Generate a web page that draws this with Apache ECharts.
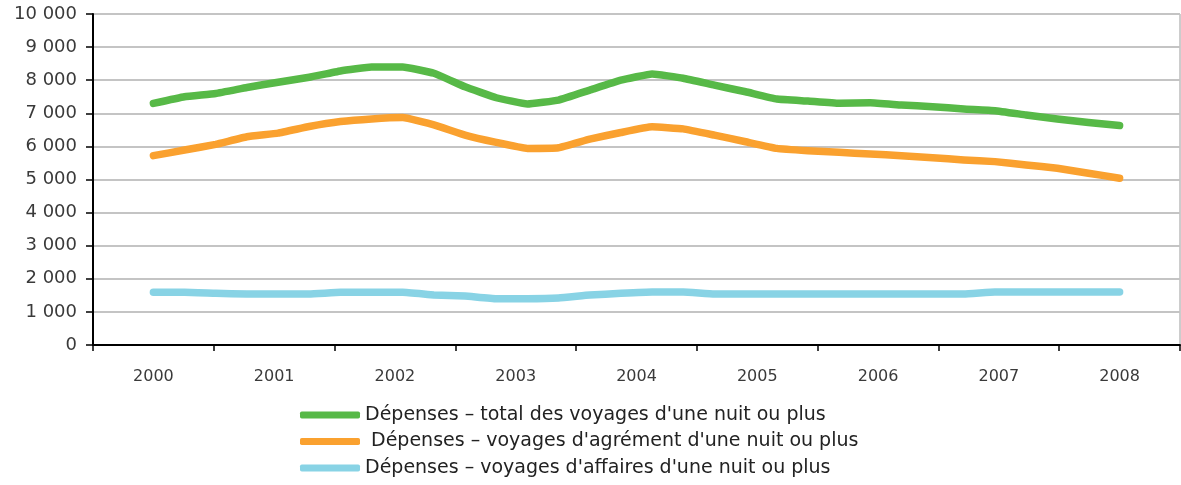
<!DOCTYPE html>
<html>
<head>
<meta charset="utf-8">
<script src="https://cdn.jsdelivr.net/npm/echarts@6/dist/echarts.min.js"></script>
<style>
html, body { margin: 0; padding: 0; background: #fff; }
#chart { width: 1181px; height: 485px; }
</style>
</head>
<body>
<div id="chart"></div>
<script>
// années affichées sur l'axe
const years = ['2000', '2001', '2002', '2003', '2004', '2005', '2006', '2007', '2008'];

// valeurs trimestrielles (2000 T1 ... 2008 T1)
const total = [
	7300, 7500, 7600, 7780, 7940, 8090, 8280, 8400, 8400,
	8210, 7800, 7470, 7280, 7400, 7700, 8000, 8190,
	8060, 7850, 7650, 7430, 7370, 7300, 7320, 7250,
	7200, 7130, 7080, 6950, 6830, 6720, 6630
];
const agrement = [
	5720, 5890, 6060, 6290, 6400, 6600, 6750, 6830, 6870,
	6650, 6340, 6120, 5940, 5960, 6220, 6420, 6590,
	6530, 6340, 6140, 5940, 5870, 5820, 5770, 5720,
	5660, 5590, 5540, 5440, 5340, 5190, 5040
];
const affaires = [
	1590, 1590, 1560, 1540, 1540, 1540, 1590, 1590, 1590,
	1510, 1480, 1400, 1400, 1420, 1510, 1560, 1600,
	1600, 1540, 1540, 1540, 1540, 1540, 1540, 1540,
	1540, 1540, 1600, 1600, 1600, 1600, 1600
];
const names = [
	'Dépenses – total des voyages d\'une nuit ou plus',
	' Dépenses – voyages d\'agrément d\'une nuit ou plus',
	'Dépenses – voyages d\'affaires d\'une nuit ou plus'
];
const colors = ['#57b947', '#faa12f', '#88d3e5'];

// position trimestrielle sur l'axe (une année = 1)
function toPoints(arr) {
	let n = arr.length - 1
	return arr.map((v, i) => [i * 8 / n, v])
}

const font = 'DejaVu Sans, Verdana, sans-serif'
const chart = echarts.init(document.getElementById('chart'))

const option = {
	animation: false,
	color: colors,
	grid: {
		left: 93, right: 1, top: 14, bottom: 140,
		show: true, borderColor: '#9a9a9a', borderWidth: 1
	},
	legend: {
		orient: 'vertical',
		left: 300,
		top: 404,
		padding: 0,
		itemWidth: 60,
		itemHeight: 7,
		itemGap: 4.5,
		icon: 'roundRect',
		textStyle: { fontFamily: font, fontSize: 19, color: '#222', lineHeight: 22 },
		data: names
	},
	xAxis: [{
		type: 'category',
		data: years,
		boundaryGap: true,
		axisLine: { lineStyle: { color: '#000', width: 2 } },
		axisTick: { show: true, length: 6, lineStyle: { color: '#000', width: 1.5 } },
		axisLabel: { margin: 24, fontFamily: font, fontSize: 16, color: '#3a3a3a' },
		splitLine: { show: false }
	}, {
		type: 'value',
		min: -0.5,
		max: 8.5,
		show: false
	}],
	yAxis: {
		type: 'value',
		min: 0,
		max: 10000,
		interval: 1000,
		axisLine: { show: true, onZero: false, lineStyle: { color: '#000', width: 2 } },
		axisTick: { show: true, length: 7, lineStyle: { color: '#000', width: 1.5 } },
		axisLabel: {
			margin: 16, fontFamily: font, fontSize: 18, color: '#3a3a3a',
			formatter: v => String(v).replace(/\B(?=(\d{3})+(?!\d))/g, ' ')
		},
		splitLine: { lineStyle: { color: '#c4c4c4', width: 2 } }
	},
	series: [total, agrement, affaires].map((arr, k) => ({
		name: names[k],
		type: 'line',
		xAxisIndex: 1,
		symbol: 'none',
		smooth: 0.1,
		lineStyle: { width: 7.5, color: colors[k], cap: 'round', join: 'round' },
		itemStyle: { color: colors[k] },
		data: toPoints(arr)
	}))
}

chart.setOption(option)
</script>
</body>
</html>
